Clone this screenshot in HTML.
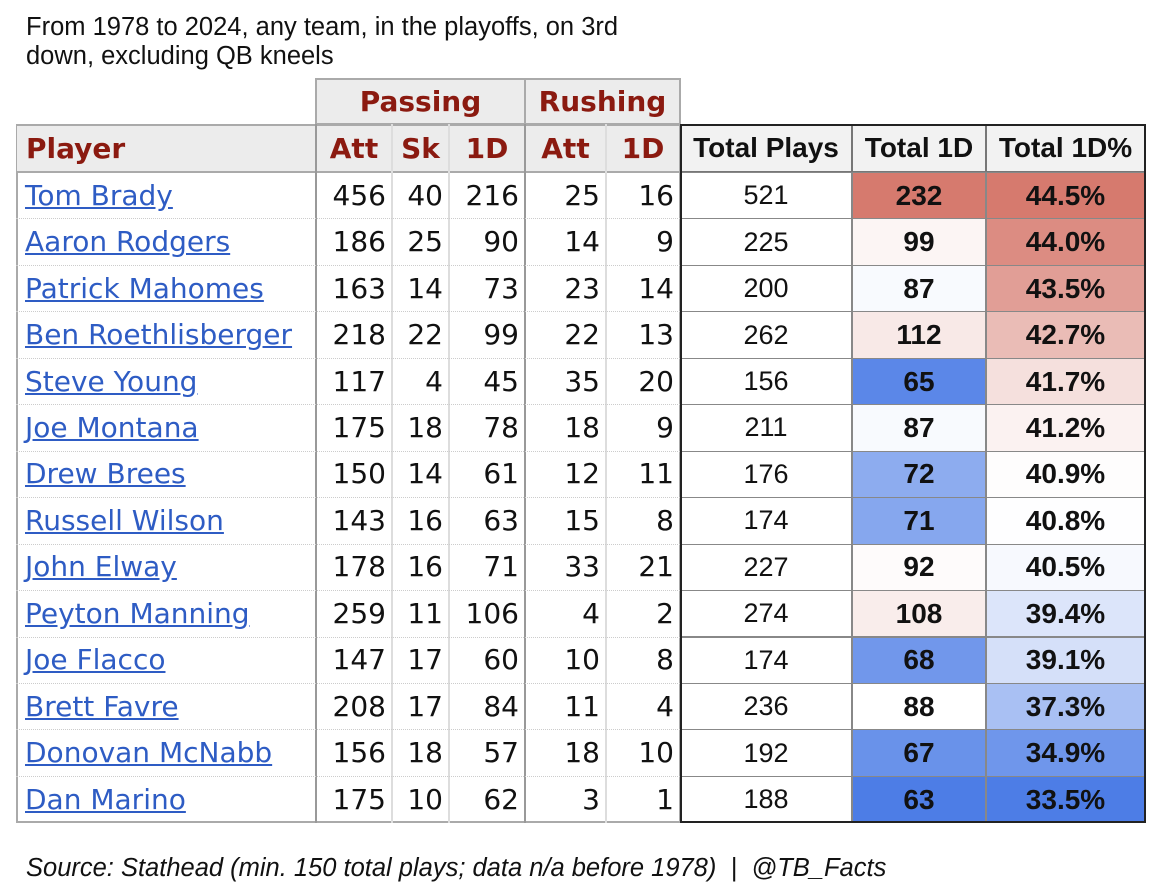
<!DOCTYPE html>
<html><head><meta charset="utf-8">
<style>
body{margin:0;width:1163px;height:895px;background:#fff;position:relative;overflow:hidden;font-family:"Liberation Sans",sans-serif}
.a{position:absolute;box-sizing:border-box}
.t{font-size:25.5px;color:#111;left:26px}
.c{display:flex;align-items:center;justify-content:flex-end;padding-right:6px;font-family:"DejaVu Sans",sans-serif;font-size:28px;color:#111}
.hd{background:#ececec;color:#8b1a10;font-family:"DejaVu Sans",sans-serif;font-weight:bold;font-size:28px;display:flex;align-items:center;justify-content:center}
.rh{background:#f2f2f2;font-weight:bold;font-size:28px;display:flex;align-items:center;justify-content:center;color:#111;border:1.5px solid #777}
.rc{display:flex;align-items:center;justify-content:center;font-size:27px;color:#111;border:1px solid #888}
.pl{color:#2e5cc4;text-decoration:underline;justify-content:flex-start;padding-left:9px}
</style></head><body>
<div class="a t" style="top:13px;left:26px">From 1978 to 2024, any team, in the playoffs, on 3rd</div>
<div class="a t" style="top:42px;left:26px">down, excluding QB kneels</div>

<div class="a hd" style="left:315px;top:78px;width:211px;height:47px;border:2px solid #aaa">Passing</div>
<div class="a hd" style="left:524px;top:78px;width:157px;height:47px;border:2px solid #aaa">Rushing</div>
<div id="tbl"></div>
<div class="a" style="top:854px;left:26px;font-size:25.5px;font-style:italic;color:#111">Source: Stathead (min. 150 total plays; data n/a before 1978) &nbsp;|&nbsp; @TB_Facts</div>

<script>
const players=["Tom Brady","Aaron Rodgers","Patrick Mahomes","Ben Roethlisberger","Steve Young","Joe Montana","Drew Brees","Russell Wilson","John Elway","Peyton Manning","Joe Flacco","Brett Favre","Donovan McNabb","Dan Marino"];
const passAtt=[456,186,163,218,117,175,150,143,178,259,147,208,156,175];
const passSk=[40,25,14,22,4,18,14,16,16,11,17,17,18,10];
const pass1D=[216,90,73,99,45,78,61,63,71,106,60,84,57,62];
const rushAtt=[25,14,23,22,35,18,12,15,33,4,10,11,18,3];
const rush1D=[16,9,14,13,20,9,11,8,21,2,8,4,10,1];
const totalPlays=[521,225,200,262,156,211,176,174,227,274,174,236,192,188];
const total1D=[232,99,87,112,65,87,72,71,92,108,68,88,67,63];
const total1DPct=[44.5,44.0,43.5,42.7,41.7,41.2,40.9,40.8,40.5,39.4,39.1,37.3,34.9,33.5];

const T=document.getElementById('tbl');
const top0=172,rh=46.45,hdrTop=124;
const lc=[16,316,392,449,525,606,680];
const rc=[680,852,986,1145];
function mk(cls,x,y,w,h,txt,name,inter){
  const d=document.createElement('div');
  d.className='a '+cls;
  d.style.left=x+'px';d.style.top=y+'px';d.style.width=w+'px';d.style.height=h+'px';
  d.textContent=txt;
  
  
  T.appendChild(d);return d;
}
function lerp(a,b,t){return Math.round(a+(b-a)*t);}
function col(v,min,mid,max){
  let r=[214,122,110],b=[77,125,230];
  if(v>=mid){const t=Math.min(1,(v-mid)/(max-mid));return `rgb(${lerp(255,r[0],t)},${lerp(255,r[1],t)},${lerp(255,r[2],t)})`;}
  const t=Math.min(1,(mid-v)/(mid-min));return `rgb(${lerp(255,b[0],t)},${lerp(255,b[1],t)},${lerp(255,b[2],t)})`;
}
// header band
const hb=mk('',16,hdrTop,665,49,'','header-row',false);hb.style.background='#ececec';hb.style.border='2px solid #aaa';
const lh=["Player","Att","Sk","1D","Att","1D"];
const lhn=["player-header","pass-att-header","pass-sk-header","pass-1d-header","rush-att-header","rush-1d-header"];
for(let i=0;i<6;i++){
  const d=mk('hd',lc[i]+1,hdrTop+2,lc[i+1]-lc[i]-2,45,lh[i],lhn[i],true);
  if(i==0){d.style.justifyContent='flex-start';d.style.paddingLeft='9px';}
}
const rhd=["Total Plays","Total 1D","Total 1D%"];
const rhn=["total-plays-header","total-1d-header","total-1d-pct-header"];
for(let i=0;i<3;i++) mk('rh',rc[i],hdrTop,rc[i+1]-rc[i],48,rhd[i],rhn[i],true);
// left table frame
const fr=mk('',16,172,665,651,'','player-stats-body',false);
fr.style.border='2px solid #aaa';fr.style.borderTop='none';
for(let i=1;i<6;i++){const v=mk('',lc[i]-1,hdrTop,2,699,'','column-divider',false);v.style.background=(i==1||i==4)?'#999':'#ddd';}
const cols=[passAtt,passSk,pass1D,rushAtt,rush1D];
const cn=["pass-att","pass-sk","pass-1d","rush-att","rush-1d"];
for(let r=0;r<players.length;r++){
  const y=top0+r*rh;
  if(r>0){const s=mk('',16,y,664,0,'','row-divider',false);s.style.borderTop='1px dotted #ccc';}
  mk('c pl',lc[0],y,lc[1]-lc[0],rh,players[r],'player-link',true);
  for(let k=0;k<5;k++) mk('c',lc[k+1],y,lc[k+2]-lc[k+1],rh,cols[k][r],cn[k]+'-cell',false);
  mk('rc',rc[0],y,rc[1]-rc[0],rh+1,totalPlays[r],'total-plays-cell',false);
  const a=mk('rc',rc[1],y,rc[2]-rc[1],rh+1,total1D[r],'total-1d-cell',false);
  a.style.fontWeight='bold';a.style.fontSize='28px';a.style.background=col(total1D[r],63,88,232);
  const b=mk('rc',rc[2],y,rc[3]-rc[2],rh+1,total1DPct[r].toFixed(1)+'%','total-1d-pct-cell',false);
  b.style.fontWeight='bold';b.style.fontSize='28px';b.style.background=col(total1DPct[r],33.5,40.85,44.5);
}
const ob=mk('',680,124,466,699,'','totals-outline',false);ob.style.border='2px solid #222';
</script>
</body></html>
